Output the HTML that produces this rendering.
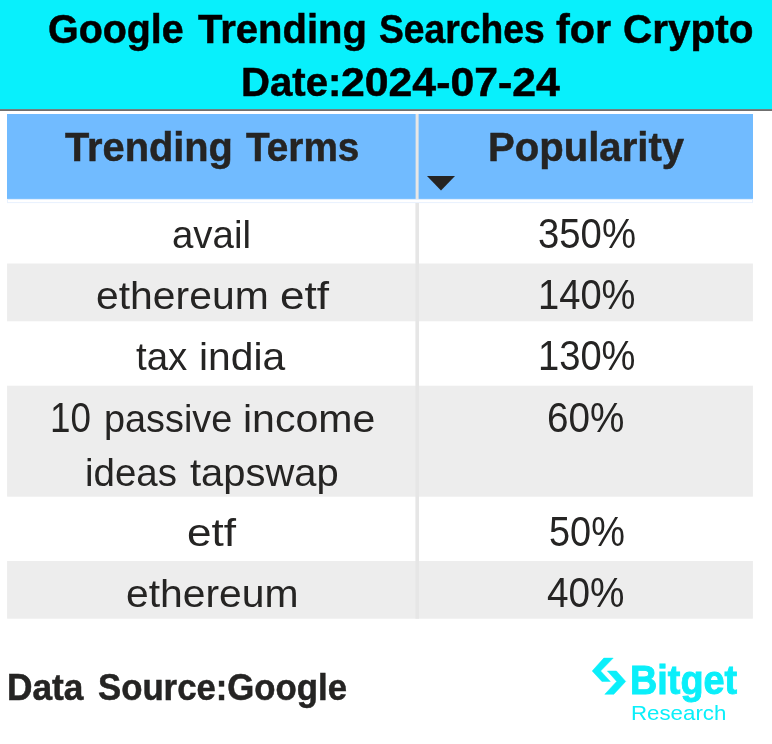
<!DOCTYPE html>
<html lang="en">
<head>
<meta charset="utf-8">
<title>Google Trending Searches for Crypto</title>
<style>
html,body{margin:0;padding:0;background:#fff;}
body{width:772px;height:744px;position:relative;overflow:hidden;font-family:"Liberation Sans",sans-serif;color:#252423;}
.abs{position:absolute;}
h1,.th,.td,.src,.brand,.sub{margin:0;padding:0;position:absolute;left:0;top:0;font-weight:400;font-size:40px;}
h1 span,.th span,.td span,.src span,.brand span,.sub span{position:absolute;display:block;white-space:nowrap;transform-origin:0 50%;}
.title{color:#000;font-weight:700;-webkit-text-stroke:0.5px #000;}
.th,.src{font-weight:700;-webkit-text-stroke:0.5px #252423;}
.brand{font-weight:700;color:#0AEFFA;-webkit-text-stroke:0.9px #0AEFFA;}
.sub{color:#0AEFFA;}
.tri{left:427px;top:176.3px;width:28px;height:14.4px;}
</style>
</head>
<body>
<svg class="abs" style="left:0;top:0;width:772px;height:744px" viewBox="0 0 772 744">
<rect x="0" y="0" width="772" height="109.2" fill="#08F0FC"/>
<rect x="0" y="109.2" width="772" height="1.7" fill="#606060"/>
<rect x="7" y="114" width="746" height="85.7" fill="#71BBFF"/>
<rect x="415.6" y="114" width="3" height="85.7" fill="#E8E6E4"/>
<rect x="7.5" y="199.4" width="745" height="3.2" fill="none" stroke="#E8F1FE" stroke-width="1"/>
<rect x="7.1" y="263.5" width="745.8" height="57.8" fill="#EDEDED"/>
<rect x="7.1" y="385.7" width="745.8" height="111" fill="#EDEDED"/>
<rect x="7.1" y="561" width="745.8" height="57.7" fill="#EDEDED"/>
<rect x="415.4" y="203" width="3.6" height="415.7" fill="#E6E6E6"/>
</svg>
<svg class="abs tri" viewBox="0 0 28 14" preserveAspectRatio="none"><polygon points="0,0 28,0 14,14" fill="#252423"/></svg>
<svg class="abs" style="left:588px;top:652px;width:44px;height:48px" viewBox="588 652 44 48">
<polygon points="603.8,658.1 613.2,658.1 600.6,671 610.3,681.4 601.9,681.4 592.2,671" fill="#0AEFFA" stroke="#0AEFFA" stroke-width="0.5" stroke-linejoin="round"/>
<polygon points="607.4,671 616.4,671 625.7,681.4 613.8,694.3 604.8,694.3 616.7,681.4" fill="#0AEFFA" stroke="#0AEFFA" stroke-width="0.5" stroke-linejoin="round"/>
</svg>
<h1 class="title"><span style="left:47.72px;top:9.00px;font-size:40px;line-height:40px;transform:scaleX(0.9850)">Google</span> <span style="left:197.85px;top:9.00px;font-size:40px;line-height:40px;transform:scaleX(1.0004)">Trending</span> <span style="left:379.07px;top:9.00px;font-size:40px;line-height:40px;transform:scaleX(0.9308)">Searches</span> <span style="left:555.70px;top:9.00px;font-size:40px;line-height:40px;transform:scaleX(1.0340)">for</span> <span style="left:623.18px;top:9.00px;font-size:40px;line-height:40px;transform:scaleX(1.0124)">Crypto</span> <span style="left:241.44px;top:62.00px;font-size:40px;line-height:40px;transform:scaleX(1.0032)">Date:</span><span style="left:341.31px;top:62.00px;font-size:40px;line-height:40px;transform:scaleX(1.0692)">2024-07-24</span></h1>
<div class="th"><span style="left:65.25px;top:127.00px;font-size:40px;line-height:40px;transform:scaleX(0.9938)">Trending</span> <span style="left:246.05px;top:127.00px;font-size:40px;line-height:40px;transform:scaleX(0.9682)">Terms</span></div>
<div class="th"><span style="left:487.94px;top:127.00px;font-size:40px;line-height:40px;transform:scaleX(1.0024)">Popularity</span></div>
<div class="td"><span style="left:171.80px;top:215.00px;font-size:39px;line-height:39px;transform:scaleX(0.9854)">avail</span></div>
<div class="td"><span style="left:537.50px;top:213.00px;font-size:41.8px;line-height:41.8px;transform:scaleX(0.9161)">350%</span></div>
<div class="td"><span style="left:95.82px;top:276.00px;font-size:39px;line-height:39px;transform:scaleX(1.0482)">ethereum</span> <span style="left:279.72px;top:276.00px;font-size:39px;line-height:39px;transform:scaleX(1.1330)">etf</span></div>
<div class="td"><span style="left:537.92px;top:274.00px;font-size:41.8px;line-height:41.8px;transform:scaleX(0.9122)">140%</span></div>
<div class="td"><span style="left:136.30px;top:337.00px;font-size:39px;line-height:39px;transform:scaleX(0.9861)">tax</span> <span style="left:199.05px;top:337.00px;font-size:39px;line-height:39px;transform:scaleX(1.0460)">india</span></div>
<div class="td"><span style="left:537.92px;top:335.00px;font-size:41.8px;line-height:41.8px;transform:scaleX(0.9122)">130%</span></div>
<div class="td"><span style="left:49.80px;top:397.00px;font-size:41.8px;line-height:41.8px;transform:scaleX(0.8800)">10</span> <span style="left:103.54px;top:399.00px;font-size:39px;line-height:39px;transform:scaleX(0.9702)">passive</span> <span style="left:243.23px;top:399.00px;font-size:39px;line-height:39px;transform:scaleX(1.0526)">income</span> <span style="left:85.39px;top:453.00px;font-size:39px;line-height:39px;transform:scaleX(0.9868)">ideas</span> <span style="left:189.50px;top:453.00px;font-size:39px;line-height:39px;transform:scaleX(1.0238)">tapswap</span></div>
<div class="td"><span style="left:547.19px;top:397.00px;font-size:41.8px;line-height:41.8px;transform:scaleX(0.9247)">60%</span></div>
<div class="td"><span style="left:187.12px;top:513.00px;font-size:39px;line-height:39px;transform:scaleX(1.1330)">etf</span></div>
<div class="td"><span style="left:548.72px;top:511.00px;font-size:41.8px;line-height:41.8px;transform:scaleX(0.9062)">50%</span></div>
<div class="td"><span style="left:125.52px;top:574.00px;font-size:39px;line-height:39px;transform:scaleX(1.0475)">ethereum</span></div>
<div class="td"><span style="left:546.99px;top:572.00px;font-size:41.8px;line-height:41.8px;transform:scaleX(0.9271)">40%</span></div>
<div class="src"><span style="left:6.94px;top:670.00px;font-size:36.5px;line-height:36.5px;transform:scaleX(0.9667)">Data</span> <span style="left:97.61px;top:670.00px;font-size:36.5px;line-height:36.5px;transform:scaleX(0.9518)">Source:Google</span></div>
<div class="brand"><span style="left:629.79px;top:661.00px;font-size:40.3px;line-height:40.3px;transform:scaleX(0.9385)">Bitget</span></div>
<div class="sub"><span style="left:631.30px;top:702.00px;font-size:21px;line-height:21px;transform:scaleX(1.0610)">Research</span></div>
</body>
</html>
